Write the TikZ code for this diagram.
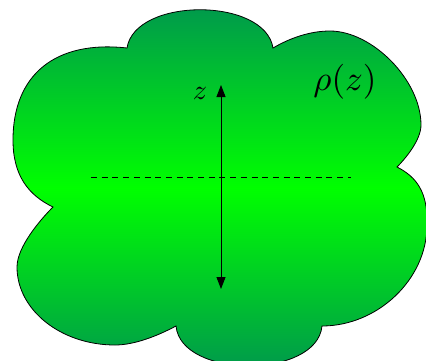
\documentclass[tikz,border=0pt]{standalone}
\usepackage{graphicx}
\usetikzlibrary{arrows.meta}
\definecolor{darkgr}{RGB}{0,148,80}
\definecolor{lime}{RGB}{0,255,0}
\tikzset{
  cloudshape/.style={draw=black, line width=0.8pt, top color=darkgr, bottom color=darkgr, middle color=lime},
  axisarrow/.style={line width=0.9pt, {Triangle[width=9pt,length=12pt]}-{Triangle[width=9pt,length=12pt]}},
  midline/.style={line width=0.8pt, dash pattern=on 6pt off 4.7pt},
  lbl/.style={inner sep=0pt}
}
\begin{document}
\begin{tikzpicture}[x=1pt,y=-1pt]
\useasboundingbox (0,0) rectangle (426,360);
\clip (0,0) rectangle (426,360);
\path[cloudshape]
  (53,207) .. controls (28,195) and (13,175) .. (13,140)
  .. controls (13,75) and (55,40) .. (127,48)
  .. controls (135,-3) and (265,-3) .. (273,48)
  .. controls (290,38) and (310,31) .. (330,31)
  .. controls (372,31) and (421,80) .. (421,125)
  .. controls (421,140) and (405.5,158.5) .. (397,167)
  .. controls (416.6,177) and (428,192) .. (427,225)
  .. controls (427,280) and (377,326) .. (322,326)
  .. controls (317,379) and (181,379) .. (176,326)
  .. controls (158.4,335.4) and (135,345) .. (115,345)
  .. controls (61,345) and (17,310) .. (17,267)
  .. controls (17,247) and (40,220) .. (53,207)
  -- cycle;
\coordinate (dl) at (91,177);
\coordinate (dr) at (351,177);
\draw[midline] (dl) -- (dr);
\coordinate (at) at (221,85);
\coordinate (ab) at (221,289);
\draw[axisarrow] (ab) -- (at);
\node[lbl] (zl) at (200,93.5) {\scalebox{2.8}{$z$}};
\node[lbl] (rho) at (345,81.5) {\scalebox{3.5}{$\rho(z)$}};
\end{tikzpicture}
\end{document}
